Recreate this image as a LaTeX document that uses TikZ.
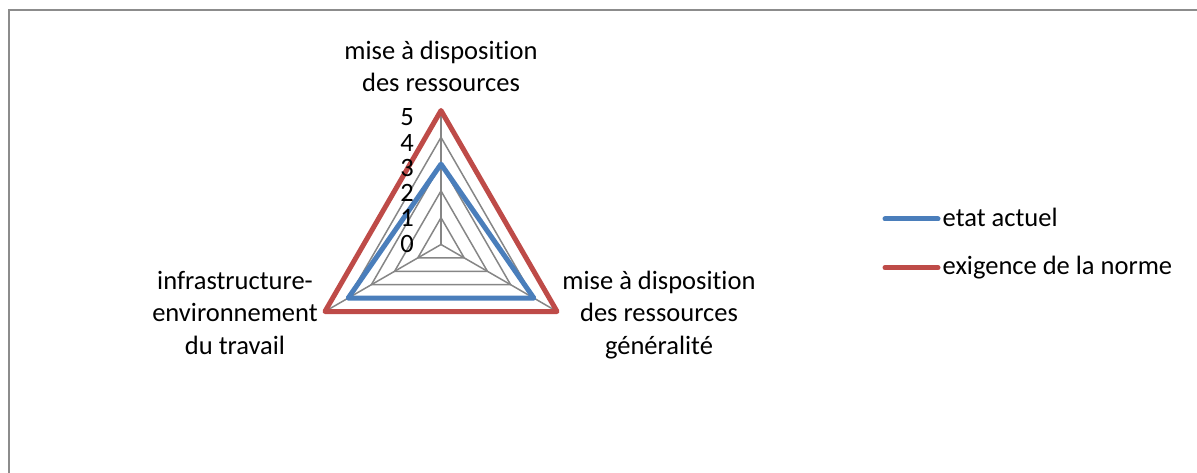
\documentclass[tikz,border=0pt]{standalone}
\usepackage{fontspec}
\setmainfont{Carlito}[Ligatures=NoCommon]
\definecolor{gridgray}{HTML}{868686}
\definecolor{framegray}{HTML}{8C8C8C}
\definecolor{seriesblue}{HTML}{4A7EBB}
\definecolor{seriesred}{HTML}{BE4B48}
\begin{document}
\begin{tikzpicture}[x=1pt,y=-1pt,
  lbl/.style={font=\fontsize{26.5}{32.5}\selectfont, inner sep=0pt, align=center},
  tick/.style={font=\fontsize{26.5}{32.5}\selectfont, inner sep=0pt, anchor=base east},
  gridline/.style={draw=gridgray, line width=1.5pt},
  series/.style={line width=5pt, line join=round, line cap=round}]
\useasboundingbox (0,0) rectangle (1197,473);
% chart frame (top and left edges)
\draw[framegray, line width=2pt] (9,473) -- (9,10) -- (1197,10);
% radar centre and axis ends
\coordinate (c) at (441,244.5);
\coordinate (top) at (441,110.5);
\coordinate (right) at (557.05,311.5);
\coordinate (left) at (324.95,311.5);
% concentric grid triangles
\foreach \k in {1,...,5}
  \draw[gridline] (441,244.5-26.8*\k) -- (441+23.21*\k,244.5+13.4*\k)
     -- (441-23.21*\k,244.5+13.4*\k) -- cycle;
% spokes
\draw[gridline] (c) -- (top);
\draw[gridline] (c) -- (right);
\draw[gridline] (c) -- (left);
% series: etat actuel (3,4,4)
\coordinate (b1) at (441,164.1);
\coordinate (b2) at (533.84,298.1);
\coordinate (b3) at (348.16,298.1);
\draw[series, seriesblue] (b1) -- (b2) -- (b3) -- cycle;
% series: exigence de la norme (5,5,5)
\draw[series, seriesred] (top) -- (right) -- (left) -- cycle;
% radial axis values
\foreach \k in {0,...,5}
  \node[tick] (v\k) at (414,252-25.2*\k) {\k};
% category labels (base anchor sits on the last line)
\node[lbl, anchor=base] (catA) at (441,92) {mise à disposition\\des ressources};
\node[lbl, anchor=base] (catB) at (659,354) {mise à disposition\\des ressources\\généralité};
\node[lbl, anchor=base] (catC) at (235,354) {infrastructure-\\environnement\\du travail};
% legend
\coordinate (l1a) at (885,219);
\coordinate (l1b) at (938,219);
\coordinate (l2a) at (885,267.7);
\coordinate (l2b) at (938,267.7);
\draw[series, seriesblue] (l1a) -- (l1b);
\draw[series, seriesred] (l2a) -- (l2b);
\node[lbl, anchor=base west] (leg1) at (942.5,226.5) {etat actuel};
\node[lbl, anchor=base west] (leg2) at (942.5,275) {exigence de la norme};
\end{tikzpicture}
\end{document}
